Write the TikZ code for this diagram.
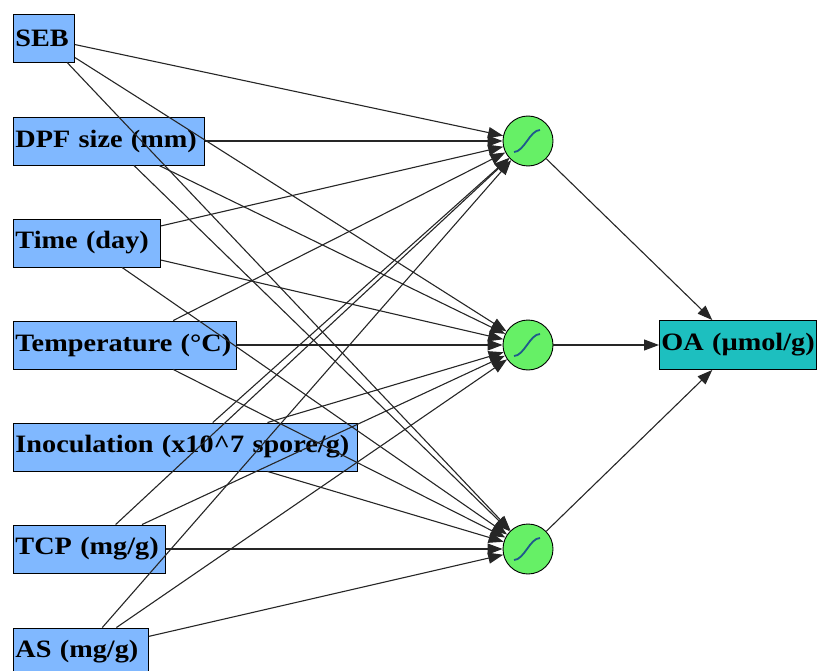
\documentclass[tikz,border=0pt]{standalone}
\usepackage{fontspec}
\setmainfont[FakeStretch=1.13]{Liberation Serif}
\usetikzlibrary{arrows.meta}
\definecolor{inblue}{HTML}{80B8FF}
\definecolor{outteal}{HTML}{1DBFBF}
\definecolor{hidgreen}{HTML}{66F066}
\definecolor{sigblue}{HTML}{1F5A8C}
\tikzset{
  boxfont/.style={font=\bfseries\fontsize{25}{28}\selectfont},
  inp/.style={draw=black, fill=inblue, anchor=west, boxfont,
    inner xsep=2pt, inner ysep=0pt, minimum height=48pt, line width=0.9pt,
    text width=#1-4pt, align=left},
  hid/.style={circle, draw=black, fill=hidgreen, minimum size=50pt, inner sep=0pt, line width=0.9pt},
  outp/.style={draw=black, fill=outteal, anchor=west, boxfont,
    inner xsep=2pt, inner ysep=0pt, minimum height=49pt, line width=0.9pt,
    text width=#1-4pt, align=left},
  edge/.style={draw=black!85, line width=1.1pt, -{Triangle[length=15pt,width=11pt]}},
  sig/.style={draw=sigblue, line width=1.8pt}
}
\begin{document}
\begin{tikzpicture}[x=1pt,y=-1pt]
\useasboundingbox (0,0) rectangle (821,671);
\node[inp=61pt] (seb) at (13,38) {SEB};
\node[inp=191pt] (dpf) at (13,141) {DPF size (mm)};
\node[inp=147pt] (time) at (13,243) {Time (day)};
\node[inp=223pt] (temp) at (13,345) {Temperature (°C)};
\node[inp=344pt] (inoc) at (13,447) {Inoculation (x10\^{}7 spore/g)};
\node[inp=152pt] (tcp) at (13,549) {TCP (mg/g)};
\node[inp=135pt] (as) at (13,652) {AS (mg/g)};
\node[hid] (h1) at (528,141) {};
\node[hid] (h2) at (528,345) {};
\node[hid] (h3) at (528,549) {};
\node[outp=157pt] (out) at (659,345) {\mbox{OA (µmol/g)}};
\foreach \i in {seb,dpf,time,temp,inoc,tcp,as}
  \foreach \h in {h1,h2,h3}
    \draw[edge] (\i) -- (\h);
\foreach \h in {h1,h2,h3}
  \draw[edge] (\h) -- (out);
\foreach \h in {h1,h2,h3}
  \draw[sig] ([shift={(-14,11)}]\h.center) .. controls ([shift={(-4,11)}]\h.center) and ([shift={(2,-11)}]\h.center) .. ([shift={(12,-11)}]\h.center);
\end{tikzpicture}
\end{document}
